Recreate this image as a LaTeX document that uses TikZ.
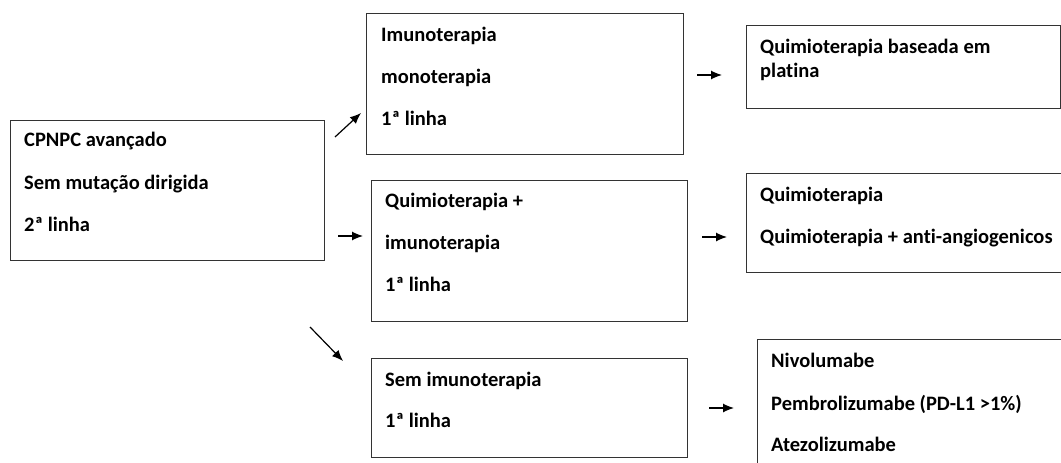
\documentclass[tikz,border=0pt]{standalone}
\usepackage{fontspec}
\setmainfont{Carlito}[Ligatures=NoCommon]
\usetikzlibrary{arrows.meta}
\begin{document}
\begin{tikzpicture}[x=1pt,y=-1pt,
  box/.style={draw=black!80,line width=1.3pt,rectangle,inner sep=0pt,anchor=north west},
  txt/.style={anchor=base west,inner sep=0pt,font=\fontsize{20.5}{24}\selectfont\bfseries},
  arr/.style={line width=1.2pt,-{Latex[length=11pt,width=9pt]}}]
\useasboundingbox (0,0) rectangle (1061,463);
\clip (0,0) rectangle (1061,463);
% boxes
\node[box,minimum width=314pt,minimum height=140.5pt] (A) at (9.5,119.5) {};
\node[box,minimum width=317pt,minimum height=141pt] (B) at (366,12.5) {};
\node[box,minimum width=316pt,minimum height=140.5pt] (C) at (371,180) {};
\node[box,minimum width=316pt,minimum height=99pt] (D) at (371,358) {};
\node[box,minimum width=314pt,minimum height=83pt] (E) at (746,25) {};
\node[box,minimum width=330pt,minimum height=99pt] (F) at (746,173) {};
\node[box,minimum width=320pt,minimum height=140pt] (G) at (757,339) {};
% texts
\node[txt] (a1) at (24,146) {CPNPC avançado};
\node[txt] (a2) at (24,189) {Sem mutação dirigida};
\node[txt] (a3) at (24,231) {2ª linha};
\node[txt] (b1) at (381,41) {Imunoterapia};
\node[txt] (b2) at (381,83) {monoterapia};
\node[txt] (b3) at (381,125) {1ª linha};
\node[txt] (c1) at (385,207) {Quimioterapia +};
\node[txt] (c2) at (385,249) {imunoterapia};
\node[txt] (c3) at (385,291) {1ª linha};
\node[txt] (d1) at (385,386) {Sem imunoterapia};
\node[txt] (d2) at (385,427) {1ª linha};
\node[txt] (e1) at (760,53) {Quimioterapia baseada em};
\node[txt] (e2) at (760,77) {platina};
\node[txt] (f1) at (760,201) {Quimioterapia};
\node[txt] (f2) at (760,243) {Quimioterapia + anti-angiogenicos};
\node[txt] (g1) at (771,367) {Nivolumabe};
\node[txt] (g2) at (771,410) {Pembrolizumabe (PD-L1 >1\%)};
\node[txt] (g3) at (771,451) {Atezolizumabe};
% arrow ends
\coordinate (ab0) at (335,137); \coordinate (ab1) at (361,113);
\coordinate (ac0) at (338,236); \coordinate (ac1) at (363,236);
\coordinate (ad0) at (310,327); \coordinate (ad1) at (343,361);
\coordinate (be0) at (697,75);  \coordinate (be1) at (722,75);
\coordinate (cf0) at (702,237); \coordinate (cf1) at (727,237);
\coordinate (dg0) at (709,408); \coordinate (dg1) at (734,408);
\draw[arr] (ab0) -- (ab1);
\draw[arr] (ac0) -- (ac1);
\draw[arr] (ad0) -- (ad1);
\draw[arr] (be0) -- (be1);
\draw[arr] (cf0) -- (cf1);
\draw[arr] (dg0) -- (dg1);
\end{tikzpicture}
\end{document}
